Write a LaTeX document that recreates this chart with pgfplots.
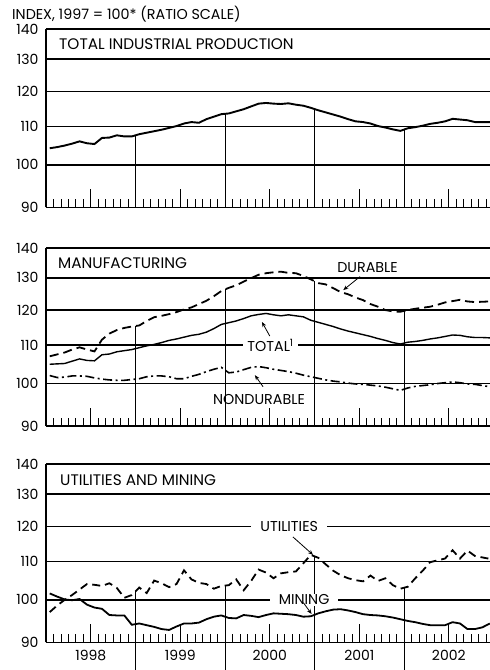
\documentclass[border=0pt]{standalone}
\usepackage{fontspec}
\setmainfont{Poppins}
\usepackage{pgfplots}
\usepackage{pgfplotstable}
\pgfplotsset{compat=1.18}
\usetikzlibrary{arrows.meta}

\pgfplotstableread{
x ip
0.5 104.2
1.5 104.5
2.5 104.9
3.5 105.4
4.5 106.0
5.5 105.5
6.5 105.3
7.5 106.9
8.5 107.0
9.5 107.6
10.5 107.3
11.5 107.3
12.5 107.9
13.5 108.3
14.5 108.7
15.5 109.1
16.5 109.6
17.5 110.1
18.5 110.8
19.5 111.2
20.5 111.0
21.5 112.0
22.5 112.7
23.5 113.4
24.5 113.6
25.5 114.2
26.5 114.8
27.5 115.6
28.5 116.4
29.5 116.6
30.5 116.4
31.5 116.3
32.5 116.5
33.5 116.1
34.5 115.8
35.5 115.2
36.5 114.5
37.5 113.9
38.5 113.3
39.5 112.7
40.5 112.0
41.5 111.4
42.5 111.2
43.5 110.8
44.5 110.1
45.5 109.7
46.5 109.2
47.5 108.8
48.5 109.5
49.5 109.8
50.5 110.2
51.5 110.7
52.5 111.0
53.5 111.4
54.5 112.1
55.5 111.9
56.5 111.7
57.5 111.2
58.5 111.2
59.5 111.2
}\tabIP

\pgfplotstableread{
x dur tot non
0.5 107.0 104.9 102.0
1.5 107.5 105.0 101.5
2.5 108.0 105.1 101.6
3.5 108.8 105.7 101.9
4.5 109.4 106.3 101.9
5.5 108.8 105.9 101.8
6.5 108.3 105.8 101.4
7.5 111.5 107.4 101.1
8.5 113.2 107.6 100.9
9.5 114.2 108.2 100.8
10.5 114.8 108.5 100.8
11.5 115.2 108.8 101.0
12.5 115.5 109.3 101.2
13.5 116.8 109.8 101.7
14.5 117.9 110.2 101.9
15.5 118.3 110.7 101.9
16.5 118.8 111.3 101.7
17.5 119.4 111.7 101.2
18.5 120.2 112.2 101.2
19.5 120.8 112.7 101.8
20.5 121.8 113.0 102.3
21.5 122.8 113.6 103.0
22.5 124.2 114.6 103.6
23.5 125.8 115.8 104.1
24.5 126.8 116.3 102.7
25.5 127.6 116.8 102.9
26.5 128.8 117.5 103.5
27.5 129.9 118.3 104.1
28.5 131.0 118.7 104.3
29.5 131.5 119.0 104.0
30.5 131.8 118.6 103.6
31.5 132.0 118.3 103.3
32.5 131.6 118.6 103.0
33.5 131.5 118.3 102.6
34.5 130.6 118.0 102.1
35.5 129.5 117.0 101.7
36.5 128.3 116.4 101.3
37.5 127.9 115.8 100.9
38.5 126.7 115.2 100.6
39.5 125.5 114.5 100.4
40.5 124.8 113.9 100.1
41.5 123.8 113.4 99.9
42.5 123.0 112.9 99.8
43.5 121.8 112.4 99.6
44.5 121.0 111.8 99.4
45.5 120.0 111.3 99.1
46.5 119.6 110.7 98.7
47.5 119.5 110.3 98.3
48.5 120.0 110.8 98.9
49.5 120.4 111.0 99.3
50.5 120.7 111.3 99.5
51.5 121.0 111.7 99.7
52.5 121.6 112.0 100.0
53.5 122.3 112.4 100.2
54.5 122.7 112.8 100.4
55.5 123.1 112.7 100.2
56.5 122.6 112.3 99.9
57.5 122.4 112.1 99.8
58.5 122.5 112.1 99.5
59.5 122.6 112.0 99.2
}\tabMFG

\pgfplotstableread{
x util mine
0.5 97.0 101.6
1.5 98.6 100.8
2.5 100.0 100.1
3.5 101.2 99.9
4.5 102.6 100.2
5.5 104.0 98.8
6.5 103.8 98.1
7.5 103.5 97.8
8.5 104.2 96.3
9.5 103.0 96.2
10.5 100.5 96.2
11.5 101.2 94.0
12.5 103.1 94.3
13.5 101.7 93.9
14.5 104.9 93.5
15.5 104.2 93.0
16.5 103.2 92.8
17.5 104.0 93.6
18.5 107.6 94.3
19.5 105.2 94.3
20.5 104.3 94.5
21.5 104.0 95.3
22.5 102.8 95.9
23.5 103.5 96.2
24.5 103.7 95.6
25.5 105.2 95.5
26.5 102.4 96.3
27.5 104.8 96.1
28.5 107.8 95.8
29.5 107.0 96.3
30.5 105.5 96.7
31.5 106.8 96.6
32.5 107.1 96.5
33.5 107.3 96.3
34.5 109.5 95.9
35.5 111.8 96.0
36.5 111.0 96.7
37.5 109.2 97.2
38.5 107.5 97.6
39.5 106.3 97.7
40.5 105.5 97.4
41.5 105.0 97.0
42.5 104.7 96.5
43.5 106.2 96.3
44.5 104.8 96.2
45.5 105.5 96.0
46.5 103.7 95.7
47.5 102.8 95.3
48.5 103.3 94.9
49.5 105.5 94.6
50.5 107.5 94.2
51.5 109.8 93.9
52.5 110.3 93.9
53.5 110.8 93.9
54.5 113.1 94.6
55.5 110.8 94.3
56.5 113.0 93.0
57.5 111.5 93.0
58.5 111.1 93.4
59.5 110.7 94.3
}\tabUM

\pgfplotsset{
  every axis/.append style={
    scale only axis, width=444.6pt, height=178pt,
    xmin=0, xmax=59.6,
    ymin=90, ymax=140,
    ytick={90,100,110,120,130,140},
    yticklabels={90,100,110,120,130,140},
    yminorticks=false,
    axis x line*=bottom, axis y line*=left,
    axis line style={-, line width=1.1pt, black},
    xtick={6,18,30,42,54},
    minor xtick={1,2,3,4,5,7,8,9,10,11,13,14,15,16,17,19,20,21,22,23,25,26,27,28,29,31,32,33,34,35,37,38,39,40,41,43,44,45,46,47,49,50,51,52,53,55,56,57,58,59},
    tick align=inside,
    major tick length=18pt, minor tick length=8.5pt,
    tick style={black, line width=0.7pt},
    tick label style={font=\fontsize{14}{14}\selectfont},
    yticklabel style={xshift=-4pt},
    xticklabel style={yshift=-4pt},
    clip=false,
  },
}
\tikzset{
  yeardiv/.style={black, line width=0.8pt},
  gridl/.style={draw=black, line width=1.7pt},
  mylab/.style={font=\fontsize{14.3}{14.3}\selectfont, inner sep=1pt},
  myarr/.style={-{Stealth[length=5pt,width=4pt]}, line width=0.8pt},
  ttl/.style={anchor=base west, inner sep=0pt, font=\fontsize{15.3}{15.3}\selectfont},
}

\begin{document}
\begin{tikzpicture}
\path[use as bounding box] (0pt,0pt) rectangle (490pt,670pt);

\node[anchor=base west, inner sep=0pt, font=\fontsize{14.3}{14.3}\selectfont] at (12pt,650pt) {INDEX, 1997 = 100* (RATIO SCALE)};

% Panel 1
\begin{axis}[ymode=log, xticklabels={}, at={(46pt,462.7pt)}, anchor=south west]
\addplot[gridl, forget plot] coordinates {(0,100) (60,100)};
\addplot[gridl, forget plot] coordinates {(0,110) (60,110)};
\addplot[gridl, forget plot] coordinates {(0,120) (60,120)};
\addplot[gridl, forget plot] coordinates {(0,130) (60,130)};
\addplot[gridl, forget plot] coordinates {(0,140) (60,140)};
\addplot[yeardiv, forget plot] coordinates {(12,90) (12,107.6)};
\addplot[yeardiv, forget plot] coordinates {(24,90) (24,113.5)};
\addplot[yeardiv, forget plot] coordinates {(36,90) (36,114.85)};
\addplot[yeardiv, forget plot] coordinates {(48,90) (48,109.15)};
\addplot[black, line width=1.9pt] table[x=x, y=ip] {\tabIP};
\end{axis}
\node[ttl] at (59pt,620.7pt) {TOTAL INDUSTRIAL PRODUCTION};

% Panel 2
\begin{axis}[ymode=log, xticklabels={}, at={(46pt,244pt)}, anchor=south west]
\addplot[gridl, forget plot] coordinates {(0,100) (60,100)};
\addplot[gridl, forget plot] coordinates {(0,110) (60,110)};
\addplot[gridl, forget plot] coordinates {(0,120) (60,120)};
\addplot[gridl, forget plot] coordinates {(0,130) (60,130)};
\addplot[gridl, forget plot] coordinates {(0,140) (60,140)};
\addplot[yeardiv, forget plot] coordinates {(12,90) (12,115.3)};
\addplot[yeardiv, forget plot] coordinates {(24,90) (24,126.3)};
\addplot[yeardiv, forget plot] coordinates {(36,90) (36,128.9)};
\addplot[yeardiv, forget plot] coordinates {(48,90) (48,119.7)};
\addplot[black, line width=1.8pt, dash pattern=on 9pt off 5pt] table[x=x, y=dur] {\tabMFG};
\addplot[black, line width=1.4pt] table[x=x, y=tot] {\tabMFG};
\addplot[black, line width=1.6pt, dash pattern=on 9pt off 3.5pt on 2pt off 3.5pt] table[x=x, y=non] {\tabMFG};
\node[mylab] at (axis cs:43.1,133.5) {DURABLE};
\draw[myarr] (axis cs:42.1,130.4) -- (axis cs:39.85,126.1);
\node[mylab, fill=white, inner xsep=4pt] at (axis cs:30.1,110) {TOTAL\textsuperscript{1}};
\draw[myarr] (axis cs:30.0,112.5) -- (axis cs:28.95,116.5);
\node[mylab] at (axis cs:28.55,96.2) {NONDURABLE};
\draw[myarr] (axis cs:29.1,99.2) -- (axis cs:28.0,102.1);
\end{axis}
\node[ttl] at (58pt,401.7pt) {MANUFACTURING};

% Panel 3
\begin{axis}[ymode=log, xticklabels={1998,1999,2000,2001,2002}, at={(46pt,27.7pt)}, anchor=south west]
\addplot[gridl, forget plot] coordinates {(0,100) (60,100)};
\addplot[gridl, forget plot] coordinates {(0,110) (60,110)};
\addplot[gridl, forget plot] coordinates {(0,120) (60,120)};
\addplot[gridl, forget plot] coordinates {(0,130) (60,130)};
\addplot[gridl, forget plot] coordinates {(0,140) (60,140)};
\addplot[yeardiv, forget plot] coordinates {(12,84) (12,102.1)};
\addplot[yeardiv, forget plot] coordinates {(24,84) (24,103.6)};
\addplot[yeardiv, forget plot] coordinates {(36,84) (36,111.4)};
\addplot[yeardiv, forget plot] coordinates {(48,84) (48,103.0)};
\addplot[black, line width=1.8pt, dash pattern=on 8pt off 5pt] table[x=x, y=util] {\tabUM};
\addplot[black, line width=1.8pt] table[x=x, y=mine] {\tabUM};
\node[mylab, fill=white, inner xsep=9pt] at (axis cs:32.6,120) {UTILITIES};
\draw[myarr] (axis cs:33.1,116.9) -- (axis cs:35.8,111.8);
\node[mylab, fill=white, inner xsep=9pt] at (axis cs:34.6,100) {MINING};
\draw[myarr] (axis cs:34.5,99.3) -- (axis cs:35.6,96.55);
\end{axis}
\node[ttl] at (60pt,184pt) {UTILITIES AND MINING};

\end{tikzpicture}
\end{document}
